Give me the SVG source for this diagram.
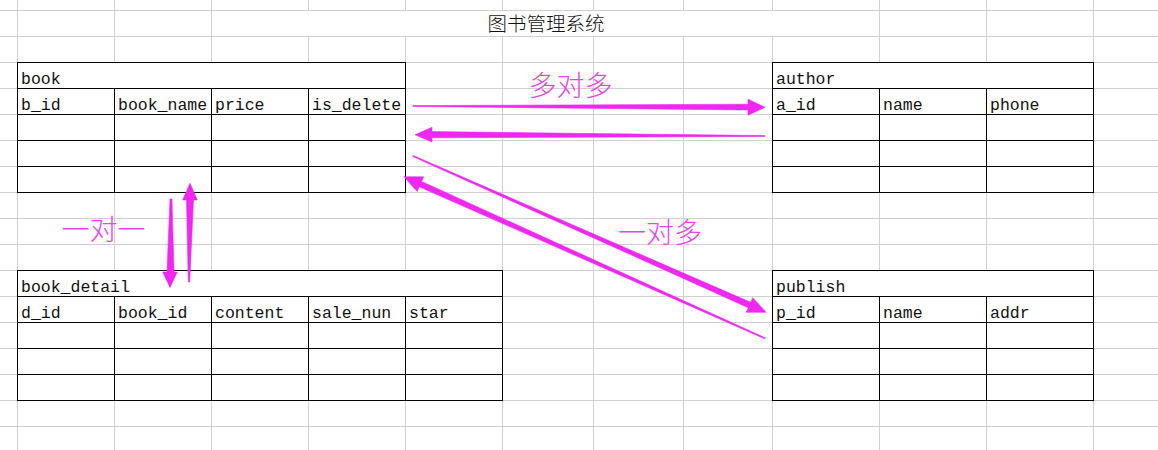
<svg xmlns="http://www.w3.org/2000/svg" width="1158" height="450" viewBox="0 0 1158 450">
<style>
.grid{stroke:#d0d0d0;stroke-width:1;fill:none}
.tb{fill:#ffffff;stroke:#000000;stroke-width:1}
.tl{stroke:#000000;stroke-width:1;fill:none}
.t{font-family:"Liberation Mono","DejaVu Sans Mono",monospace;font-size:16.5px;fill:#111111}
.title{font-family:"Noto Sans CJK SC","Noto Sans CJK JP",sans-serif;font-size:19.5px;font-weight:300;fill:#111111;text-anchor:middle}
.lbl{font-family:"Noto Sans CJK SC","Noto Sans CJK JP",sans-serif;font-size:28px;font-weight:300;fill:#e447e4;text-anchor:middle}
.arr{fill:#ee28ee;stroke:#ee28ee;stroke-width:0.6;stroke-linejoin:round}
</style>
<rect x="0" y="0" width="1158" height="450" fill="#ffffff"/>
<g id="grid">
<path class="grid" d="M17.5 0V450M114.5 0V450M211.5 0V450M308.5 0V450M405.5 0V450M502.5 0V450M593.5 0V450M683.5 0V450M772.5 0V450M879.5 0V450M986.5 0V450M1093.5 0V450M0 10.5H1158M0 36.5H1158M0 62.5H1158M0 88.5H1158M0 114.5H1158M0 140.5H1158M0 166.5H1158M0 192.5H1158M0 218.5H1158M0 244.5H1158M0 270.5H1158M0 296.5H1158M0 322.5H1158M0 348.5H1158M0 374.5H1158M0 400.5H1158M0 426.5H1158"/>
<rect x="212" y="11" width="667" height="25" fill="#ffffff"/>
</g>
<g id="title">
<text class="title" x="546" y="31">图书管理系统</text>
</g>
<g id="book">
<rect class="tb" x="17.5" y="62.5" width="388" height="130"/>
<path class="tl" d="M17.5 88.5H405.5M17.5 114.5H405.5M17.5 140.5H405.5M17.5 166.5H405.5M114.5 88.5V192.5M211.5 88.5V192.5M308.5 88.5V192.5"/>
<text class="t" x="21" y="83.5">book</text>
<text class="t" x="21" y="109.5">b_id</text>
<text class="t" x="118" y="109.5">book_name</text>
<text class="t" x="215" y="109.5">price</text>
<text class="t" x="312" y="109.5">is_delete</text>
</g>
<g id="author">
<rect class="tb" x="772.5" y="62.5" width="321" height="130"/>
<path class="tl" d="M772.5 88.5H1093.5M772.5 114.5H1093.5M772.5 140.5H1093.5M772.5 166.5H1093.5M879.5 88.5V192.5M986.5 88.5V192.5"/>
<text class="t" x="776" y="83.5">author</text>
<text class="t" x="776" y="109.5">a_id</text>
<text class="t" x="883" y="109.5">name</text>
<text class="t" x="990" y="109.5">phone</text>
</g>
<g id="book_detail">
<rect class="tb" x="17.5" y="270.5" width="485" height="130"/>
<path class="tl" d="M17.5 296.5H502.5M17.5 322.5H502.5M17.5 348.5H502.5M17.5 374.5H502.5M114.5 296.5V400.5M211.5 296.5V400.5M308.5 296.5V400.5M405.5 296.5V400.5"/>
<text class="t" x="21" y="291.5">book_detail</text>
<text class="t" x="21" y="317.5">d_id</text>
<text class="t" x="118" y="317.5">book_id</text>
<text class="t" x="215" y="317.5">content</text>
<text class="t" x="312" y="317.5">sale_nun</text>
<text class="t" x="409" y="317.5">star</text>
</g>
<g id="publish">
<rect class="tb" x="772.5" y="270.5" width="321" height="130"/>
<path class="tl" d="M772.5 296.5H1093.5M772.5 322.5H1093.5M772.5 348.5H1093.5M772.5 374.5H1093.5M879.5 296.5V400.5M986.5 296.5V400.5"/>
<text class="t" x="776" y="291.5">publish</text>
<text class="t" x="776" y="317.5">p_id</text>
<text class="t" x="883" y="317.5">name</text>
<text class="t" x="990" y="317.5">addr</text>
</g>
<g id="connectors">
<polygon class="arr" points="413,105.6 748,104.2 748,99.2 765,107.3 748,115.2 748,110 413,106.4"/>
<polygon class="arr" points="765,135.6 432,131.6 432,127.3 415,134.8 432,142 432,137.8 765,136.4"/>
<polygon class="arr" points="413.2,155.5 750.7,302.3 752.7,297.7 766,312.3 746.3,312.3 748.3,307.7 412.8,156.5"/>
<polygon class="arr" points="765.2,337.8 421.6,181.4 423.7,176.8 404,176.7 417.1,191.4 419.2,186.8 764.8,338.8"/>
<polygon class="arr" points="172,199 174,272 177.3,272 170,287.5 162.7,272 167,272 170,199"/>
<polygon class="arr" points="188.3,282 186.5,200 182.7,200 190,183.3 197.3,200 193.5,200 189.7,282"/>
</g>
<g id="labels">
<text class="lbl" x="570.5" y="96">多对多</text>
<text class="lbl" x="103.5" y="240">一对一</text>
<text class="lbl" x="660" y="243">一对多</text>
</g>
</svg>
